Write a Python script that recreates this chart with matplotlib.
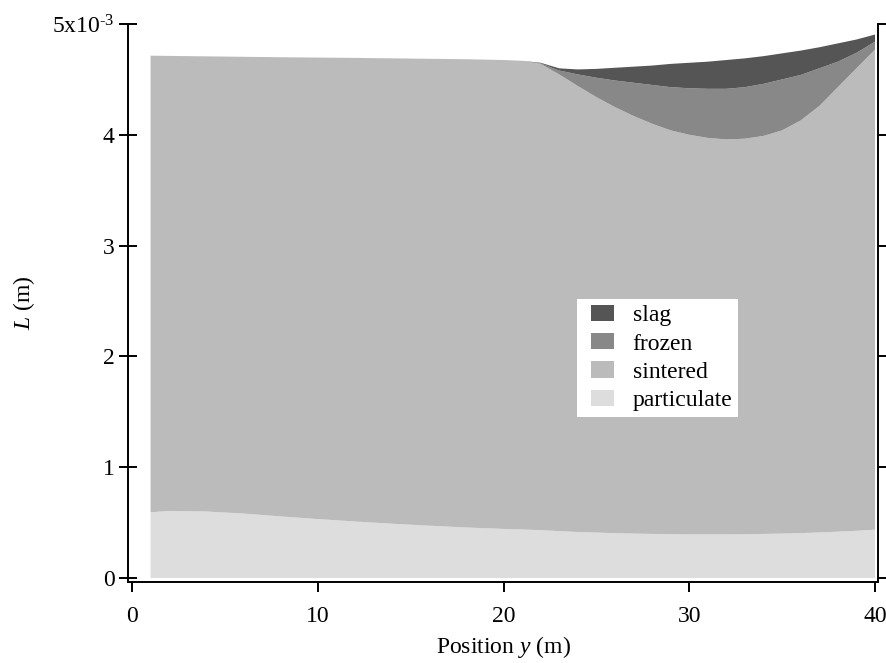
import numpy as np
import matplotlib
matplotlib.use("Agg")
import matplotlib.pyplot as plt
from matplotlib.patches import Rectangle, Patch
from matplotlib.legend_handler import HandlerPatch

plt.rcParams['font.family'] = ['Liberation Serif', 'DejaVu Serif']
plt.rcParams['mathtext.fontset'] = 'custom'
plt.rcParams['mathtext.rm'] = 'Liberation Serif'
plt.rcParams['mathtext.it'] = 'Liberation Serif:italic'

# Position along the bed (m)
position = [1, 2, 4, 6, 8, 10, 12, 14, 16, 18, 20,
            21, 22, 23, 24, 25, 26, 27, 28, 29, 30,
            31, 32, 33, 34, 35, 36, 37, 38, 39, 40]

# Upper boundary of each layer, in units of 1e-3 m (cumulative heights)
particulate_top = [0.593, 0.605, 0.600, 0.582, 0.556, 0.532, 0.510, 0.490, 0.472, 0.456, 0.443,
                   0.438, 0.432, 0.423, 0.415, 0.410, 0.405, 0.401, 0.398, 0.396, 0.394,
                   0.394, 0.394, 0.395, 0.398, 0.401, 0.405, 0.411, 0.418, 0.426, 0.436]
sintered_top = [4.714, 4.712, 4.708, 4.704, 4.700, 4.697, 4.694, 4.690, 4.686, 4.682, 4.675,
                4.668, 4.640, 4.545, 4.440, 4.340, 4.250, 4.170, 4.100, 4.040, 4.000,
                3.972, 3.958, 3.965, 3.990, 4.040, 4.130, 4.260, 4.430, 4.600, 4.770]
frozen_top = [4.714, 4.712, 4.708, 4.704, 4.700, 4.697, 4.694, 4.690, 4.686, 4.682, 4.675,
              4.668, 4.645, 4.580, 4.545, 4.515, 4.490, 4.470, 4.450, 4.430, 4.420,
              4.415, 4.415, 4.430, 4.460, 4.500, 4.540, 4.600, 4.660, 4.740, 4.840]
slag_top = [4.714, 4.712, 4.708, 4.704, 4.700, 4.697, 4.694, 4.690, 4.686, 4.682, 4.675,
            4.668, 4.650, 4.600, 4.590, 4.595, 4.605, 4.615, 4.625, 4.640, 4.650,
            4.660, 4.675, 4.690, 4.710, 4.735, 4.760, 4.790, 4.825, 4.860, 4.905]

layer_names = ['particulate', 'sintered', 'frozen', 'slag']
layer_colors = ['#dddddd', '#bbbbbb', '#888888', '#555555']

y_ticks = [0, 1, 2, 3, 4, 5]
y_tick_labels = ['0', '1', '2', '3', '4', r'5x10$^{\text{-3}}$']
x_ticks = [0, 10, 20, 30, 40]
x_tick_labels = ['0', '10', '20', '30', '40']

scale = 1e-3

W, H = 887, 663
fig = plt.figure(figsize=(W / 100, H / 100), dpi=100)
ax = fig.add_axes([128 / W, 1 - 582 / H, (878 - 128) / W, (582 - 24) / H])

x = np.array(position)
bounds = [np.zeros_like(x, dtype=float)] + [np.array(b) * scale for b in
                                            (particulate_top, sintered_top, frozen_top, slag_top)]
for i, (name, color) in enumerate(zip(layer_names, layer_colors)):
    ax.fill_between(x, bounds[i], bounds[i + 1], facecolor=color,
                    edgecolor='none', linewidth=0)

ax.set_xlim(-0.215, 40.16)
ax.set_ylim(-0.036e-3, 5.0e-3)

ax.spines['top'].set_visible(False)
for s in ('left', 'right', 'bottom'):
    ax.spines[s].set_linewidth(1.4)
    ax.spines[s].set_color('black')

ax.set_xticks(x_ticks)
ax.set_xticklabels(x_tick_labels)
ax.set_yticks([v * scale for v in y_ticks])
ax.set_yticklabels(y_tick_labels)

ax.tick_params(axis='y', which='major', left=True, right=True, labelright=False,
               direction='inout', length=13, width=1.4, labelsize=17, pad=3)
ax.tick_params(axis='x', which='major', bottom=True, top=False,
               direction='out', length=7, width=1.4, labelsize=17, pad=10)
for t in ax.yaxis.get_major_ticks():
    t.tick2line.set_marker(matplotlib.lines.TICKRIGHT)
    t.tick2line.set_markersize(7)

ax.set_xlabel(r'Position $\mathit{y}$ (m)', fontsize=17, labelpad=5)
ax.set_ylabel(r'$\mathit{L}$ (m)', fontsize=17, labelpad=11)


def swatch(legend, orig_handle, xdescent, ydescent, width, height, fontsize):
    # fixed-size colour square at the right end of the handle box
    w = 16.6
    return Rectangle((-xdescent + width - w, -ydescent), w, height)


proxies = [Patch(facecolor=c, edgecolor='none', linewidth=0) for c in layer_colors]
leg = ax.legend(proxies[::-1], layer_names[::-1], loc='upper left',
                bbox_to_anchor=(577 / W, 1 - 299 / H), bbox_transform=fig.transFigure,
                borderaxespad=0, frameon=True, fancybox=False, framealpha=1,
                facecolor='white', edgecolor='none', fontsize=17,
                handlelength=1.31, handleheight=0.68, handletextpad=0.8,
                labelspacing=0.29, borderpad=0.25,
                handler_map={Patch: HandlerPatch(patch_func=swatch)})
leg.get_frame().set_linewidth(0)

fig.savefig('out.png', dpi=100)
